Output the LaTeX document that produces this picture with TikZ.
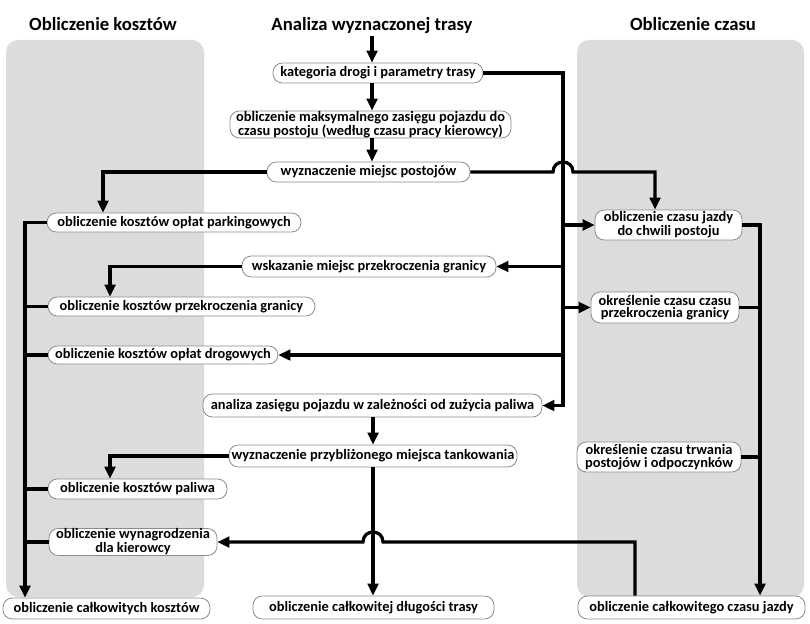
\documentclass[tikz,border=0pt]{standalone}
\usepackage{fontspec}
\setmainfont{Carlito}
\usetikzlibrary{arrows.meta,calc}
\definecolor{panelgray}{RGB}{220,220,220}
\definecolor{boxline}{RGB}{140,140,140}
\begin{document}
\begin{tikzpicture}[x=0.75pt,y=-0.75pt,
  box/.style 2 args={draw=boxline, line width=0.6pt, fill=white, rounded corners=7pt,
     inner sep=0pt, align=center, minimum width=#1*0.75pt, minimum height=#2*0.75pt,
     font=\fontsize{10.8}{9.4}\selectfont\bfseries},
  ttl/.style={font=\fontsize{14}{15}\selectfont\bfseries, inner sep=1pt},
  conn/.style={line width=2.4pt},
  arr/.style={conn, -{Triangle[length=9pt,width=8pt]}},
  panel/.style={fill=panelgray, draw=none, rounded corners=9pt}]
\useasboundingbox (0,0) rectangle (810,624);
\fill[white] (0,0) rectangle (810,624);
% panels
\path[panel] (6,40) rectangle (204,597);
\path[panel] (577,40) rectangle (804,597);
% titles
\node[ttl] (t1) at (103,24) {Obliczenie kosztów};
\node[ttl] (t2) at (372,26) {Analiza wyznaczonej trasy};
\node[ttl] (t3) at (693,24) {Obliczenie czasu};
% nodes
\node[box={210}{20}] (kat) at (378,73) {kategoria drogi i parametry trasy};
\node[box={281}{26}] (maxz) at (370.5,124.5) {obliczenie maksymalnego zasięgu pojazdu do\\czasu postoju (według czasu pracy kierowcy)};
\node[box={203}{20}] (miejsc) at (368.5,172) {wyznaczenie miejsc postojów};
\node[box={254}{19}] (park) at (174,222.5) {obliczenie kosztów opłat parkingowych};
\node[box={254}{21}] (wsk) at (369,266.5) {wskazanie miejsc przekroczenia granicy};
\node[box={267}{19}] (przk) at (181.5,306.5) {obliczenie kosztów przekroczenia granicy};
\node[box={230}{18}] (drog) at (163,355) {obliczenie kosztów opłat drogowych};
\node[box={339}{23}] (anal) at (372.5,405.5) {analiza zasięgu pojazdu w zależności od zużycia paliwa};
\node[box={288}{22}] (tank) at (373,456) {wyznaczenie przybliżonego miejsca tankowania};
\node[box={179}{20}] (pal) at (137.5,489) {obliczenie kosztów paliwa};
\node[box={168}{27}] (wyn) at (133,542) {obliczenie wynagrodzenia\\dla kierowcy};
\node[box={207}{21}] (tcost) at (106.5,608.5) {obliczenie całkowitych kosztów};
\node[box={241}{23}] (dlug) at (373.5,607.5) {obliczenie całkowitej długości trasy};
\node[box={227}{23}] (ttime) at (691.5,607.5) {obliczenie całkowitego czasu jazdy};
\node[box={147}{30}] (cjazdy) at (668.5,225) {obliczenie czasu jazdy\\do chwili postoju};
\node[box={148}{31}] (okrg) at (665,307.5) {określenie czasu czasu\\przekroczenia granicy};
\node[box={164}{30}] (okrt) at (659,457) {określenie czasu trwania\\postojów i odpoczynków};
% bus coordinates
\coordinate (busR) at (563,73);
\coordinate (busL) at (25,222.5);
\coordinate (busT) at (760,225);
\coordinate (dropA) at (103,0);
\coordinate (dropB) at (110,0);
\coordinate (dropC) at (655,0);
\coordinate (riseT) at (635,542);
% main chain
\draw[arr] (t2.south) -- (t2.south |- kat.north);
\draw[arr] (kat.south -| t2.south) -- (maxz.north -| t2.south);
\draw[arr] (maxz.south -| t2.south) -- (miejsc.north -| t2.south);
\draw[arr] (anal.south -| tank.north) -- (tank.north);
% right bus
\draw[arr] (kat.east) -- (busR) -- (busR |- anal.east) -- (anal.east);
\draw[arr] (busR |- cjazdy.west) -- (cjazdy.west);
\draw[arr] (busR |- wsk.east) -- (wsk.east);
\draw[arr] (busR |- okrg.west) -- (okrg.west);
\draw[arr] (busR |- drog.east) -- (drog.east);
% miejsc branches
\draw[arr] (miejsc.west) -- (miejsc.west -| dropA) -- (dropA |- park.north);
\draw[arr] (miejsc.east) -- ($(busR |- miejsc.east)+(-10,0)$)
   .. controls +(0,-13.3) and +(0,-13.3) .. ($(busR |- miejsc.east)+(10,0)$)
   -- (miejsc.east -| dropC) -- (dropC |- cjazdy.north);
\draw[arr] (wsk.west) -- (wsk.west -| dropB) -- (dropB |- przk.north);
\draw[arr] (tank.west) -- (tank.west -| dropB) -- (dropB |- pal.north);
% left bus
\draw[arr] (park.west) -- (busL) -- (busL |- tcost.north);
\draw[conn] (przk.west) -- (busL |- przk.west);
\draw[conn] (drog.west) -- (busL |- drog.west);
\draw[conn] (pal.west) -- (busL |- pal.west);
\draw[conn] (wyn.west) -- (busL |- wyn.west);
% tank to length
\draw[arr] (tank.south) -- (tank.south |- dlug.north);
% time bus
\draw[arr] (cjazdy.east) -- (busT) -- (busT |- ttime.north);
\draw[conn] (okrg.east) -- (busT |- okrg.east);
\draw[conn] (okrt.east) -- (busT |- okrt.east);
% total time to wynagrodzenie
\draw[arr] (riseT |- ttime.north) -- (riseT) -- ($(riseT -| tank.south)+(10,0)$)
   .. controls +(0,-13.3) and +(0,-13.3) .. ($(riseT -| tank.south)+(-10,0)$)
   -- (wyn.east);
\end{tikzpicture}
\end{document}
